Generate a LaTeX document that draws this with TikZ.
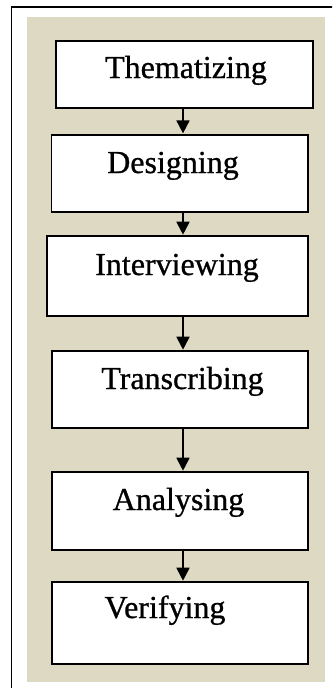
\documentclass[tikz,border=0pt]{standalone}
\usepackage{fontspec}
\setmainfont{Liberation Serif}[FakeBold=0.8]
\usetikzlibrary{arrows.meta}
\definecolor{beige}{HTML}{DDD9C3}
\tikzset{
  box/.style={draw=black, line width=1.6pt, fill=white, inner sep=0pt, anchor=center},
  lbl/.style={anchor=base, inner sep=0pt, font=\fontsize{32}{36}\selectfont},
  flow/.style={line width=1.8pt, -{Triangle[width=13pt,length=13pt]}, shorten >=0.5pt}
}
\begin{document}
\begin{tikzpicture}[x=1pt,y=-1pt]
\useasboundingbox (0,0) rectangle (332,688);
\begin{scope}
\clip (0,0) rectangle (332,688);
\draw[line width=1.8pt] (11.5,700) -- (11.5,7) -- (340,7);
\end{scope}
\fill[beige] (27,17) rectangle (325,682);
% boxes
\node[box, minimum width=257pt, minimum height=67pt] (b1) at (184.5,74.5) {};
\node[box, minimum width=256.5pt, minimum height=77.3pt] (b2) at (179.75,173.35) {};
\node[box, minimum width=261.3pt, minimum height=80pt] (b3) at (177.35,276) {};
\node[box, minimum width=256.3pt, minimum height=77pt] (b4) at (179.85,389.5) {};
\node[box, minimum width=256.3pt, minimum height=78pt] (b5) at (179.85,511) {};
\node[box, minimum width=256.3pt, minimum height=82pt] (b6) at (179.85,623) {};
% labels
\node[lbl] (t1) at (186,78) {Thematizing};
\node[lbl] (t2) at (173,173) {Designing};
\node[lbl] (t3) at (177,275) {Interviewing};
\node[lbl] (t4) at (182.5,389) {Transcribing};
\node[lbl] (t5) at (178.5,510) {Analysing};
\node[lbl] (t6) at (165,618) {Verifying};
% arrows
\coordinate (ax) at (183,0);
\draw[flow] (ax |- b1.south) -- (ax |- b2.north);
\draw[flow] (ax |- b2.south) -- (ax |- b3.north);
\draw[flow] (ax |- b3.south) -- (ax |- b4.north);
\draw[flow] (ax |- b4.south) -- (ax |- b5.north);
\draw[flow] (ax |- b5.south) -- (ax |- b6.north);
\end{tikzpicture}
\end{document}
